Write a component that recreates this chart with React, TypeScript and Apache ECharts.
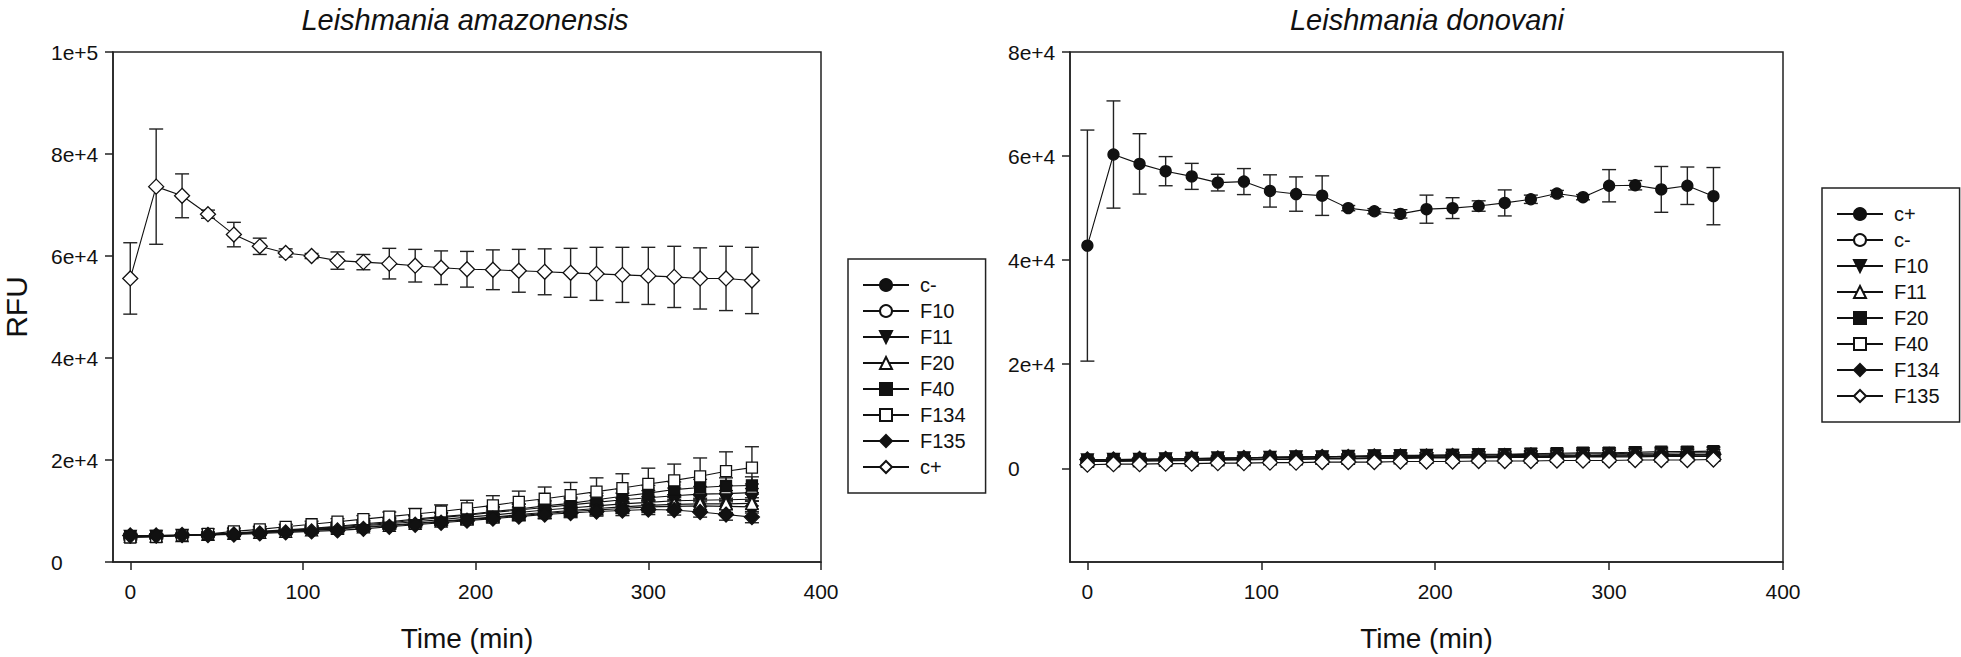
import React, { useEffect, useRef } from "react";
import * as echarts from "echarts";

// ---------- data ----------
const TIME = [0, 15, 30, 45, 60, 75, 90, 105, 120, 135, 150, 165, 180, 195, 210, 225, 240, 255, 270, 285, 300, 315, 330, 345, 360];
const X_TICKS = [0, 100, 200, 300, 400];
const Y_TICKS_AMA = [0, 20000, 40000, 60000, 80000, 100000];
const Y_TICKS_DON = [0, 20000, 40000, 60000, 80000];

// Leishmania amazonensis
const AMA_NAMES = ["c-", "F10", "F11", "F20", "F40", "F134", "F135", "c+"];
const AMA_CMINUS = [5200, 5200, 5300, 5400, 5600, 5800, 6000, 6200, 6500, 6800, 7100, 7500, 7900, 8300, 8700, 9100, 9500, 9900, 10200, 10500, 10800, 10900, 11000, 10900, 10800];
const AMA_CMINUS_ERR = [400, 300, 300, 300, 400, 400, 400, 500, 500, 500, 600, 600, 700, 700, 800, 800, 900, 900, 1000, 1000, 1100, 1100, 1200, 1200, 1200];
const AMA_F10 = [4900, 5000, 5200, 5400, 5600, 5900, 6200, 6500, 6900, 7300, 7700, 8200, 8700, 9200, 9700, 10200, 10700, 11200, 11700, 12200, 12600, 13000, 13300, 13400, 13600];
const AMA_F10_ERR = [400, 400, 400, 400, 500, 500, 500, 600, 600, 700, 700, 800, 900, 900, 1000, 1100, 1100, 1200, 1300, 1300, 1400, 1500, 1500, 1600, 1700];
const AMA_F11 = [5000, 5000, 5200, 5300, 5500, 5800, 6100, 6400, 6700, 7100, 7500, 7900, 8300, 8800, 9200, 9700, 10200, 10600, 11000, 11400, 11700, 12000, 12100, 12200, 12300];
const AMA_F11_ERR = [300, 300, 300, 400, 400, 400, 500, 500, 500, 600, 600, 700, 700, 800, 800, 900, 900, 1000, 1000, 1100, 1100, 1200, 1200, 1300, 1300];
const AMA_F20 = [5100, 5100, 5200, 5400, 5600, 5800, 6000, 6300, 6600, 6900, 7200, 7600, 8000, 8400, 8800, 9300, 9700, 10100, 10500, 10800, 11100, 11300, 11400, 11400, 11500];
const AMA_F20_ERR = [300, 300, 300, 300, 400, 400, 400, 500, 500, 500, 600, 600, 700, 700, 700, 800, 800, 900, 900, 1000, 1000, 1000, 1100, 1100, 1100];
const AMA_F40 = [5000, 5100, 5200, 5400, 5700, 6000, 6300, 6600, 7000, 7500, 7900, 8400, 8900, 9300, 9900, 10400, 11000, 11500, 12200, 12900, 13500, 14200, 14600, 14900, 15000];
const AMA_F40_ERR = [400, 300, 300, 400, 400, 400, 500, 500, 500, 600, 700, 700, 800, 900, 1000, 1000, 1100, 1200, 1300, 1400, 1500, 1500, 1600, 1600, 1700];
const AMA_F134 = [4800, 4900, 5200, 5500, 6000, 6400, 6900, 7400, 7900, 8400, 8900, 9400, 9900, 10500, 11100, 11800, 12400, 13100, 13800, 14500, 15300, 16000, 16800, 17800, 18500];
const AMA_F134_ERR = [500, 400, 400, 400, 500, 500, 500, 600, 600, 700, 900, 1100, 1300, 1600, 1900, 2100, 2300, 2500, 2700, 2800, 3100, 3200, 3600, 3800, 4100];
const AMA_F135 = [5200, 5200, 5300, 5300, 5400, 5600, 5800, 6000, 6200, 6500, 6900, 7300, 7700, 8100, 8500, 8900, 9300, 9600, 9900, 10100, 10300, 10200, 9800, 9300, 8800];
const AMA_F135_ERR = [400, 300, 300, 300, 400, 400, 400, 400, 500, 500, 500, 600, 600, 700, 700, 800, 800, 900, 900, 1000, 1000, 1000, 1000, 1100, 1100];
const AMA_CPLUS = [55600, 73600, 71800, 68200, 64200, 61900, 60600, 60000, 59100, 58800, 58500, 58100, 57700, 57400, 57300, 57100, 56900, 56700, 56500, 56300, 56100, 55900, 55600, 55600, 55200];
const AMA_CPLUS_ERR = [7000, 11300, 4300, 800, 2400, 1600, 800, 500, 1700, 1500, 3000, 3200, 3300, 3500, 3900, 4200, 4500, 4800, 5200, 5400, 5600, 6000, 6000, 6300, 6500];

// Leishmania donovani
const DON_NAMES = ["c+", "c-", "F10", "F11", "F20", "F40", "F134", "F135"];
const DON_CPLUS = [42800, 60300, 58500, 57100, 56100, 54900, 55100, 53300, 52700, 52400, 50000, 49400, 48900, 49800, 50000, 50400, 51000, 51700, 52800, 52100, 54300, 54400, 53600, 54300, 52300];
const DON_CPLUS_ERR = [22200, 10300, 5800, 2800, 2500, 1600, 2500, 3100, 3300, 3800, 500, 500, 800, 2700, 2000, 1000, 2500, 800, 600, 500, 3100, 900, 4400, 3600, 5500];
const DON_CMINUS = [1300, 1300, 1400, 1400, 1500, 1600, 1600, 1700, 1700, 1800, 1800, 1900, 1900, 2000, 2000, 2000, 2100, 2100, 2100, 2200, 2200, 2200, 2300, 2300, 2300];
const DON_CMINUS_ERR = [300, 300, 300, 300, 300, 300, 300, 400, 400, 400, 400, 400, 400, 400, 400, 500, 500, 500, 500, 500, 500, 500, 500, 500, 500];
const DON_F10 = [1600, 1700, 1700, 1800, 1900, 2000, 2000, 2100, 2200, 2200, 2300, 2400, 2400, 2500, 2500, 2600, 2600, 2700, 2700, 2800, 2800, 2900, 2900, 3000, 3000];
const DON_F10_ERR = [300, 300, 300, 300, 300, 400, 400, 400, 400, 400, 400, 400, 500, 500, 500, 500, 500, 500, 600, 600, 600, 600, 600, 600, 600];
const DON_F11 = [1400, 1500, 1500, 1600, 1600, 1700, 1700, 1800, 1800, 1900, 1900, 2000, 2000, 2100, 2100, 2200, 2200, 2200, 2300, 2300, 2300, 2400, 2400, 2500, 2500];
const DON_F11_ERR = [300, 300, 300, 300, 300, 300, 300, 300, 400, 400, 400, 400, 400, 400, 400, 400, 500, 500, 500, 500, 500, 500, 500, 500, 500];
const DON_F20 = [1500, 1600, 1700, 1800, 1800, 1900, 2000, 2100, 2200, 2200, 2300, 2400, 2500, 2500, 2600, 2700, 2700, 2800, 2900, 3000, 3000, 3100, 3200, 3200, 3300];
const DON_F20_ERR = [300, 300, 300, 300, 400, 400, 400, 400, 400, 400, 500, 500, 500, 500, 500, 500, 600, 600, 600, 700, 700, 700, 700, 700, 700];
const DON_F40 = [1300, 1400, 1400, 1500, 1600, 1600, 1700, 1800, 1800, 1900, 1900, 2000, 2000, 2100, 2200, 2200, 2300, 2300, 2400, 2400, 2500, 2500, 2500, 2600, 2600];
const DON_F40_ERR = [300, 300, 300, 300, 300, 300, 300, 300, 400, 400, 400, 400, 400, 400, 400, 400, 400, 500, 500, 500, 500, 500, 500, 500, 500];
const DON_F134 = [1700, 1700, 1800, 1800, 1900, 1900, 2000, 2100, 2100, 2200, 2200, 2300, 2300, 2300, 2400, 2400, 2400, 2500, 2500, 2500, 2600, 2600, 2600, 2700, 2700];
const DON_F134_ERR = [300, 300, 300, 300, 300, 300, 300, 300, 300, 300, 400, 400, 400, 400, 400, 400, 400, 400, 400, 400, 400, 400, 400, 400, 400];
const DON_F135 = [700, 800, 800, 900, 900, 1000, 1000, 1100, 1100, 1200, 1200, 1200, 1300, 1300, 1300, 1400, 1400, 1400, 1500, 1500, 1500, 1600, 1600, 1600, 1700];
const DON_F135_ERR = [300, 300, 300, 300, 300, 300, 300, 300, 300, 300, 300, 300, 300, 300, 300, 300, 300, 300, 300, 300, 300, 300, 300, 300, 300];

const AMA_VALUES = [AMA_CMINUS, AMA_F10, AMA_F11, AMA_F20, AMA_F40, AMA_F134, AMA_F135, AMA_CPLUS];
const AMA_ERRORS = [AMA_CMINUS_ERR, AMA_F10_ERR, AMA_F11_ERR, AMA_F20_ERR, AMA_F40_ERR, AMA_F134_ERR, AMA_F135_ERR, AMA_CPLUS_ERR];
const DON_VALUES = [DON_CPLUS, DON_CMINUS, DON_F10, DON_F11, DON_F20, DON_F40, DON_F134, DON_F135];
const DON_ERRORS = [DON_CPLUS_ERR, DON_CMINUS_ERR, DON_F10_ERR, DON_F11_ERR, DON_F20_ERR, DON_F40_ERR, DON_F134_ERR, DON_F135_ERR];

// ---------- styles ----------
const FONT = '"Liberation Sans", Arial, Helvetica, sans-serif';
const INK = "#111";
// marker style per legend position (same sequence in both panels)
const MARKERS = [
  { symbol: "circle", filled: true, rotate: 0, size: 11 },
  { symbol: "circle", filled: false, rotate: 0, size: 11 },
  { symbol: "triangle", filled: true, rotate: 180, size: 12 },
  { symbol: "triangle", filled: false, rotate: 0, size: 12 },
  { symbol: "rect", filled: true, rotate: 0, size: 11 },
  { symbol: "rect", filled: false, rotate: 0, size: 11 },
  { symbol: "diamond", filled: true, rotate: 0, size: 15 },
  { symbol: "diamond", filled: false, rotate: 0, size: 15 },
];
const AMA_MARKER_ORDER = [0, 1, 2, 3, 4, 5, 6, 7];
const DON_MARKER_ORDER = [0, 1, 2, 3, 4, 5, 6, 7];

const errRender = (params: any, api: any) => {
  const x = api.value(0);
  const y = api.value(1);
  const e = api.value(2);
  const p1 = api.coord([x, y + e]);
  const p2 = api.coord([x, y - e]);
  const hw = 7;
  const st = { stroke: "#222", lineWidth: 1.4 };
  return {
    type: "group",
    children: [
      { type: "line", shape: { x1: p1[0], y1: p1[1], x2: p2[0], y2: p2[1] }, style: st },
      { type: "line", shape: { x1: p1[0] - hw, y1: p1[1], x2: p1[0] + hw, y2: p1[1] }, style: st },
      { type: "line", shape: { x1: p2[0] - hw, y1: p2[1], x2: p2[0] + hw, y2: p2[1] }, style: st },
    ],
  };
};

function buildSeries(prefix: string, names: string[], values: number[][], errors: number[][], markerOrder: number[], axisIdx: number) {
  const out: any[] = [];
  names.forEach((n, i) => {
    out.push({
      type: "custom",
      name: prefix + "|err|" + n,
      xAxisIndex: axisIdx,
      yAxisIndex: axisIdx,
      silent: true,
      z: 2,
      renderItem: errRender,
      encode: { x: 0, y: 1 },
      data: TIME.map((t, k) => [t, values[i][k], errors[i][k]]),
    });
  });
  names.forEach((n, i) => {
    const m = MARKERS[markerOrder[i]];
    out.push({
      type: "line",
      name: prefix + "|" + n,
      xAxisIndex: axisIdx,
      yAxisIndex: axisIdx,
      z: 3,
      symbol: m.symbol,
      symbolSize: m.size,
      symbolRotate: m.rotate,
      showSymbol: true,
      showAllSymbol: true,
      lineStyle: { color: INK, width: 1.1 },
      itemStyle: { color: m.filled ? INK : "#fff", borderColor: INK, borderWidth: 1.3, opacity: 1 },
      emphasis: { disabled: true },
      data: TIME.map((t, k) => [t, values[i][k]]),
    });
  });
  return out;
}

const sciFmt = (v: number) => (v === 0 ? "0" : v.toExponential(0));

function xAxisCfg(gridIndex: number) {
  return {
    type: "value",
    gridIndex,
    min: -10,
    max: 400,
    name: "Time (min)",
    nameLocation: "middle",
    nameGap: 62,
    nameTextStyle: { fontSize: 28, fontFamily: FONT, color: INK },
    axisLine: { show: true, onZero: false, lineStyle: { color: "#222", width: 1.5 } },
    axisTick: { show: true, inside: false, length: 8, customValues: X_TICKS, lineStyle: { color: "#222", width: 1.5 } },
    axisLabel: { customValues: X_TICKS, margin: 19, fontSize: 21, fontFamily: FONT, color: INK },
    splitLine: { show: false },
  };
}

function yAxisCfg(gridIndex: number, min: number, max: number, ticks: number[], name: string) {
  return {
    type: "value",
    gridIndex,
    min,
    max,
    name,
    nameLocation: "middle",
    nameGap: 82,
    nameTextStyle: { fontSize: 30, fontFamily: FONT, color: INK },
    axisLine: { show: true, onZero: false, lineStyle: { color: "#222", width: 1.5 } },
    axisTick: { show: true, inside: false, length: 8, customValues: ticks, lineStyle: { color: "#222", width: 1.5 } },
    axisLabel: { customValues: ticks, formatter: sciFmt, align: "left", margin: 62, fontSize: 21, fontFamily: FONT, color: INK },
    splitLine: { show: false },
  };
}

function legendCfg(prefix: string, names: string[], left: number, top: number) {
  return {
    show: true,
    orient: "vertical",
    left,
    top,
    data: names.map((n) => prefix + "|" + n),
    formatter: (n: string) => n.split("|")[1],
    selectedMode: false,
    itemWidth: 46,
    itemHeight: 15,
    itemGap: 6,
    padding: [16, 20, 16, 14],
    borderColor: "#222",
    borderWidth: 1.5,
    backgroundColor: "#fff",
    textStyle: { fontFamily: FONT, fontSize: 20, color: INK, lineHeight: 20, padding: [0, 0, 0, 6] },
  };
}

export default function App() {
  const ref = useRef<HTMLDivElement>(null);
  useEffect(() => {
    if (!ref.current) return;
    const chart = echarts.init(ref.current, null, { renderer: "svg" });
    const option: any = {
      animation: false,
      backgroundColor: "#fff",
      grid: [
        { left: 107, top: 52, width: 714, height: 512, show: true, borderColor: "#222", borderWidth: 1.5, backgroundColor: "transparent" },
        { left: 1070, top: 52, width: 713, height: 512, show: true, borderColor: "#222", borderWidth: 1.5, backgroundColor: "transparent" },
      ],
      xAxis: [xAxisCfg(0), xAxisCfg(1)],
      yAxis: [
        yAxisCfg(0, 0, 100000, Y_TICKS_AMA, "RFU"),
        yAxisCfg(1, -18000, 80000, Y_TICKS_DON, ""),
      ],
      legend: [
        legendCfg("A", AMA_NAMES, 848, 259),
        legendCfg("D", DON_NAMES, 1822, 188),
      ],
      graphic: [
        { type: "text", x: 465, y: 20, style: { text: "Leishmania amazonensis", align: "center", verticalAlign: "middle", fontSize: 29, fontStyle: "italic", fontFamily: FONT, fill: INK } },
        { type: "text", x: 1427, y: 20, style: { text: "Leishmania donovani", align: "center", verticalAlign: "middle", fontSize: 29, fontStyle: "italic", fontFamily: FONT, fill: INK } },
      ],
      series: [
        ...buildSeries("A", AMA_NAMES, AMA_VALUES, AMA_ERRORS, AMA_MARKER_ORDER, 0),
        ...buildSeries("D", DON_NAMES, DON_VALUES, DON_ERRORS, DON_MARKER_ORDER, 1),
      ],
    };
    chart.setOption(option);
    return () => chart.dispose();
  }, []);
  return <div ref={ref} style={{ position: "fixed", left: 0, top: 0, width: 1961, height: 657, background: "#fff" }} />;
}
